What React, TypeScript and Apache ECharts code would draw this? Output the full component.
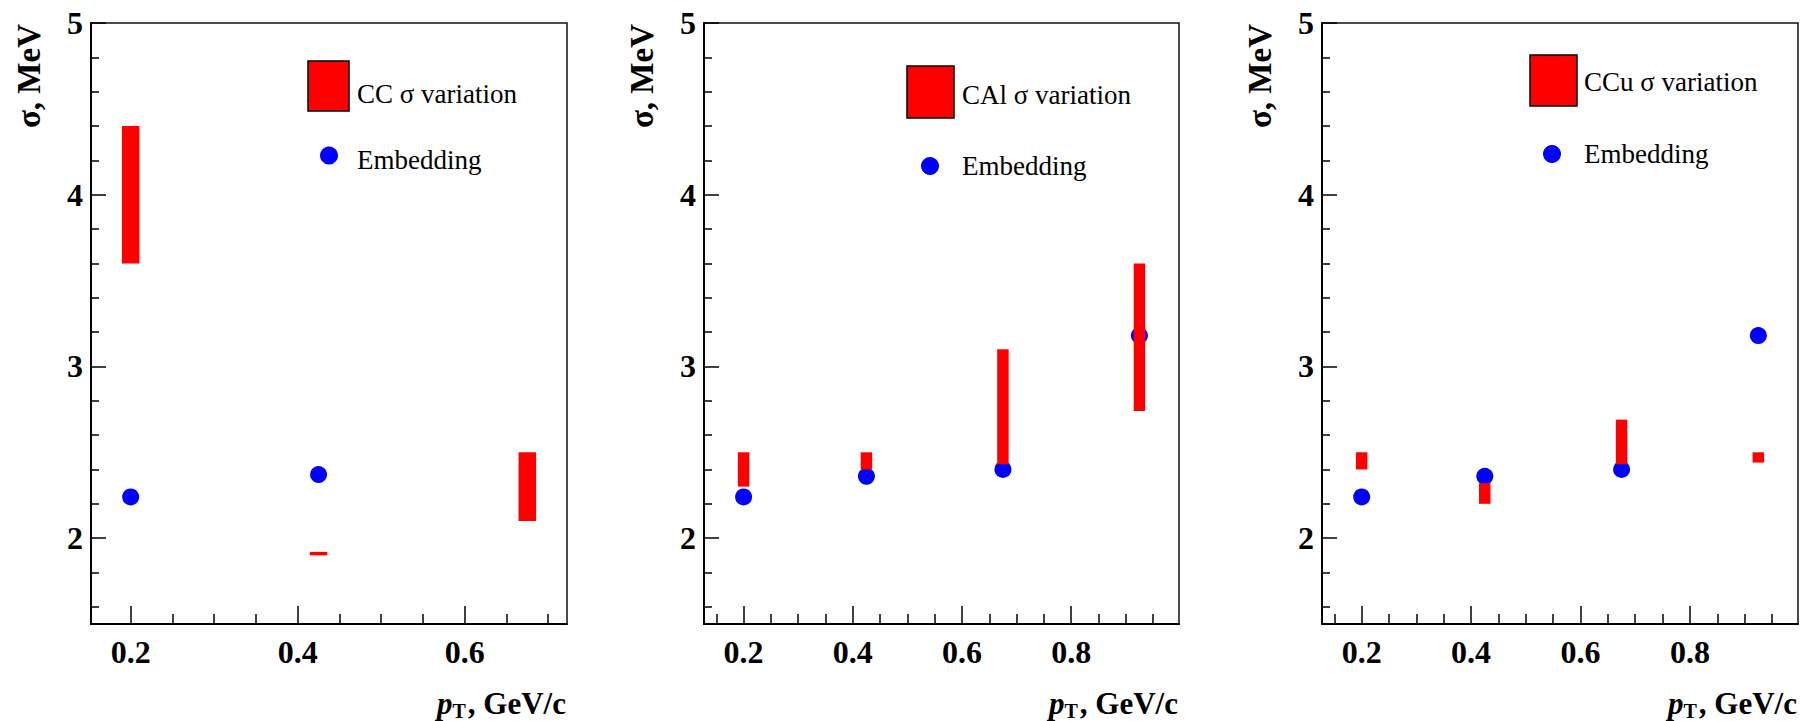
import React, { useEffect, useRef } from "react";
import * as echarts from "echarts";

// ---- data ----
const ptCC = [0.2, 0.425, 0.675];
const ptAll = [0.2, 0.425, 0.675, 0.925];
const embCC = [2.24, 2.37, 2.4];
const embCAl = [2.24, 2.36, 2.4, 3.18];
const embCCu = [2.24, 2.36, 2.4, 3.18];
const ccLow = [3.6, 1.9, 2.1];
const ccHigh = [4.4, 1.92, 2.5];
const calLow = [2.3, 2.4, 2.43, 2.74];
const calHigh = [2.5, 2.5, 3.1, 3.6];
const ccuLow = [2.4, 2.2, 2.43, 2.44];
const ccuHigh = [2.5, 2.32, 2.69, 2.5];
const legendNames = ["CC σ variation", "CAl σ variation", "CCu σ variation"];
const embName = "Embedding";
const yTitle = "σ, MeV";
const xLabelsCC = [0.2, 0.4, 0.6];
const xLabelsAll = [0.2, 0.4, 0.6, 0.8];
const xMinorCC = [0.25, 0.3, 0.35, 0.45, 0.5, 0.55, 0.65, 0.7];
const xMinorAll = [0.15, 0.25, 0.3, 0.35, 0.45, 0.5, 0.55, 0.65, 0.7, 0.75, 0.85, 0.9, 0.95];
const yLabels = [2, 3, 4, 5];
const yMinor = [1.6, 1.8, 2.2, 2.4, 2.6, 2.8, 3.2, 3.4, 3.6, 3.8, 4.2, 4.4, 4.6, 4.8];

const FONT = "'Liberation Serif', 'Times New Roman', serif";
const TOP = 23;
const HEIGHT = 601;

const panels = [
  { left: 91, width: 476, xMin: 0.1525, xMax: 0.7225, xs: ptCC, emb: embCC, lo: ccLow, hi: ccHigh, xLabels: xLabelsCC, xMinor: xMinorCC, name: legendNames[0], box: [308, 61, 41, 50], txt: [357, 94], dot: [329, 155.5], embTxt: [357, 160] },
  { left: 704, width: 475, xMin: 0.1275, xMax: 0.9975, xs: ptAll, emb: embCAl, lo: calLow, hi: calHigh, xLabels: xLabelsAll, xMinor: xMinorAll, name: legendNames[1], box: [907, 66, 47, 52], txt: [962, 95], dot: [930, 166], embTxt: [962, 166] },
  { left: 1322, width: 476, xMin: 0.1275, xMax: 0.9975, xs: ptAll, emb: embCCu, lo: ccuLow, hi: ccuHigh, xLabels: xLabelsAll, xMinor: xMinorAll, name: legendNames[2], box: [1530, 55, 47, 51], txt: [1584, 81.5], dot: [1552, 154], embTxt: [1584, 153.5] },
];

function measure(font: string, s: string) {
  const c = document.createElement("canvas").getContext("2d") as CanvasRenderingContext2D;
  c.font = font;
  return c.measureText(s).width;
}

export default function App() {
  const ref = useRef<HTMLDivElement>(null);
  useEffect(() => {
    document.body.style.margin = "0";
    if (!ref.current) return;
    const chart = echarts.init(ref.current, undefined, { renderer: "svg" });

    const grid: any[] = [];
    const xAxis: any[] = [];
    const yAxis: any[] = [];
    const series: any[] = [];
    const graphic: any[] = [];

    const restFont = `bold 31px ${FONT}`;
    const subFont = `bold 20px ${FONT}`;
    const pFont = `italic bold 31px ${FONT}`;
    const wRest = measure(restFont, ", GeV/c");
    const wT = measure(subFont, "T");

    panels.forEach((p, i) => {
      grid.push({ left: p.left, top: TOP, width: p.width, height: HEIGHT, show: true, borderColor: "#111", borderWidth: 1.5, backgroundColor: "transparent" });
      const common = { type: "value", gridIndex: i, min: p.xMin, max: p.xMax, position: "bottom", splitLine: { show: false } };
      xAxis.push({
        ...common,
        axisLine: { show: true, onZero: false, lineStyle: { color: "#000", width: 2 } },
        axisTick: { show: true, inside: true, length: 18, customValues: p.xLabels, lineStyle: { color: "#000", width: 1.5 } },
        axisLabel: { show: true, customValues: p.xLabels, margin: 12, color: "#000", fontSize: 32, fontWeight: "bold", fontFamily: FONT },
      });
      xAxis.push({
        ...common,
        axisLine: { show: false },
        axisTick: { show: true, inside: true, length: 10, customValues: p.xMinor, lineStyle: { color: "#000", width: 1.5 } },
        axisLabel: { show: false },
      });
      const ycommon = { type: "value", gridIndex: i, min: 1.5, max: 5, position: "left", splitLine: { show: false } };
      yAxis.push({
        ...ycommon,
        axisLine: { show: true, onZero: false, lineStyle: { color: "#000", width: 2 } },
        axisTick: { show: true, inside: true, length: 15, customValues: yLabels, lineStyle: { color: "#000", width: 1.5 } },
        axisLabel: { show: true, customValues: yLabels, margin: 8, color: "#000", fontSize: 32, fontWeight: "bold", fontFamily: FONT },
      });
      yAxis.push({
        ...ycommon,
        axisLine: { show: false },
        axisTick: { show: true, inside: true, length: 8, customValues: yMinor, lineStyle: { color: "#000", width: 1.5 } },
        axisLabel: { show: false },
      });

      series.push({
        type: "scatter",
        xAxisIndex: 2 * i,
        yAxisIndex: 2 * i,
        data: p.xs.map((x, j) => [x, p.emb[j]]),
        symbol: "circle",
        symbolSize: 17,
        itemStyle: { color: "#0000ff", opacity: 1 },
        z: 2,
        silent: true,
      });
      series.push({
        type: "custom",
        xAxisIndex: 2 * i,
        yAxisIndex: 2 * i,
        data: p.xs.map((x, j) => [x, p.lo[j], p.hi[j]]),
        encode: { x: 0, y: [1, 2] },
        z: 3,
        silent: true,
        renderItem: (params: any, api: any) => {
          const x = api.value(0);
          const lo = api.value(1);
          const hi = api.value(2);
          const a = api.coord([x - 0.0105, hi]);
          const b = api.coord([x + 0.0105, lo]);
          return {
            type: "rect",
            shape: { x: a[0], y: a[1], width: b[0] - a[0], height: Math.max(b[1] - a[1], 2) },
            style: { fill: "#ff0000" },
          };
        },
      });

      // y title
      graphic.push({
        type: "text",
        x: p.left - 62,
        y: 24,
        rotation: Math.PI / 2,
        style: { text: yTitle, align: "right", verticalAlign: "middle", font: `bold 33px ${FONT}`, fill: "#000" },
      });
      // x title
      const R = p.left + p.width - 1;
      graphic.push({ type: "text", x: R, y: 703.5, style: { text: ", GeV/c", align: "right", verticalAlign: "middle", font: restFont, fill: "#000" } });
      graphic.push({ type: "text", x: R - wRest - 2, y: 711, style: { text: "T", align: "right", verticalAlign: "middle", font: subFont, fill: "#000" } });
      graphic.push({ type: "text", x: R - wRest - 2 - wT, y: 703.5, style: { text: "p", align: "right", verticalAlign: "middle", font: pFont, fill: "#000" } });

      // legend
      graphic.push({ type: "rect", shape: { x: p.box[0], y: p.box[1], width: p.box[2], height: p.box[3] }, style: { fill: "#ff0000", stroke: "#000", lineWidth: 1.5 } });
      graphic.push({ type: "text", x: p.txt[0], y: p.txt[1], style: { text: p.name, align: "left", verticalAlign: "middle", font: `27px ${FONT}`, fill: "#000" } });
      graphic.push({ type: "circle", shape: { cx: p.dot[0], cy: p.dot[1], r: 9 }, style: { fill: "#0000ff" } });
      graphic.push({ type: "text", x: p.embTxt[0], y: p.embTxt[1], style: { text: embName, align: "left", verticalAlign: "middle", font: `27px ${FONT}`, fill: "#000" } });
    });

    chart.setOption({
      animation: false,
      backgroundColor: "#fff",
      grid,
      xAxis,
      yAxis,
      series,
      graphic,
    });
    return () => chart.dispose();
  }, []);
  return <div ref={ref} style={{ width: 1800, height: 721 }} />;
}
